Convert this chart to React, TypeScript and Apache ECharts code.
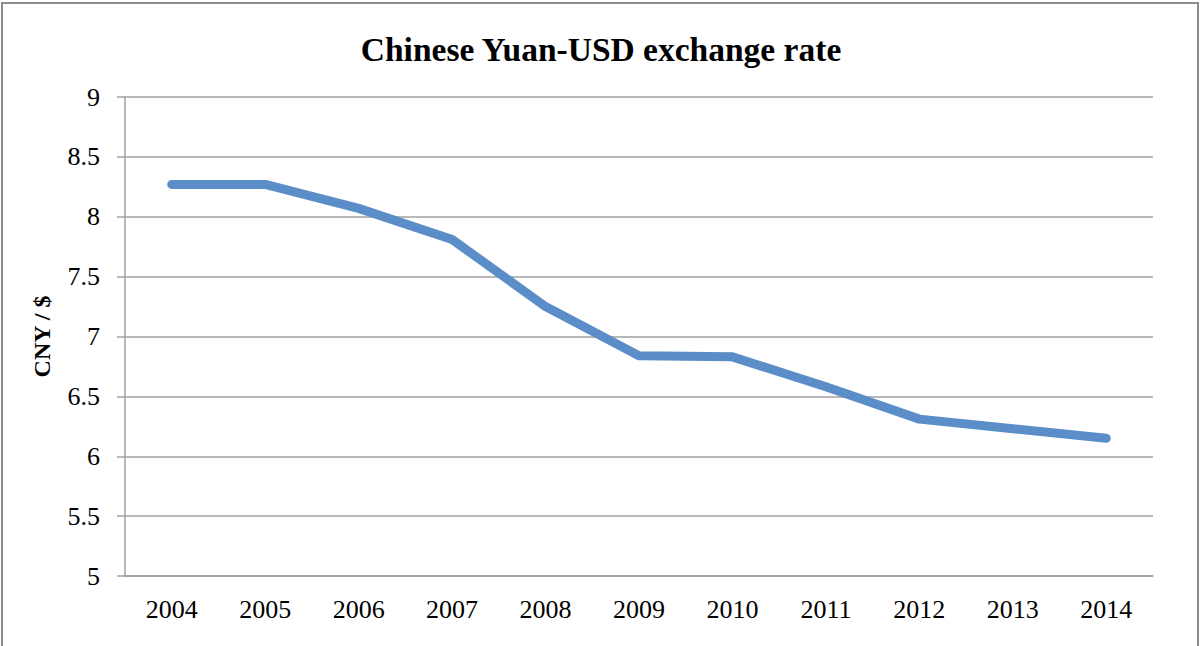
import React, { useEffect, useRef } from "react";
import * as echarts from "echarts";

const years = ["2004", "2005", "2006", "2007", "2008", "2009", "2010", "2011", "2012", "2013", "2014"];
const rates = [8.27, 8.27, 8.07, 7.81, 7.25, 6.84, 6.83, 6.58, 6.31, 6.23, 6.15];
const titleText = "Chinese Yuan-USD exchange rate";
const yAxisName = "CNY / $";

const FONT = "'Liberation Serif', 'DejaVu Serif', serif";

export default function App() {
  const ref = useRef<HTMLDivElement>(null);
  useEffect(() => {
    document.body.style.margin = "0";
    const chart = echarts.init(ref.current!, null, { renderer: "svg" });
    chart.setOption({
      animation: false,
      backgroundColor: "#fff",
      title: {
        text: titleText,
        left: "center",
        top: 27,
        textStyle: { fontFamily: FONT, fontWeight: "bold", fontSize: 33.5, color: "#000" },
      },
      graphic: [
        {
          type: "rect",
          shape: { x: 2, y: 3, width: 1196, height: 700 },
          style: { fill: "none", stroke: "#8c8c8c", lineWidth: 2 },
          silent: true,
        },
      ],
      grid: { left: 125, right: 49, top: 97, bottom: 70, containLabel: false },
      xAxis: {
        type: "category",
        data: years,
        boundaryGap: true,
        axisLine: { show: true, lineStyle: { color: "#a0a0a0", width: 1.5 } },
        axisTick: { show: false },
        axisLabel: { fontFamily: FONT, fontSize: 26, color: "#000", margin: 20 },
      },
      yAxis: {
        type: "value",
        min: 5,
        max: 9,
        interval: 0.5,
        name: yAxisName,
        nameLocation: "middle",
        nameGap: 71,
        nameRotate: 90,
        nameTextStyle: { fontFamily: FONT, fontWeight: "bold", fontSize: 24, color: "#000" },
        axisLine: { show: true, lineStyle: { color: "#a0a0a0", width: 1.5 } },
        axisTick: { show: true, length: 8, lineStyle: { color: "#a0a0a0", width: 1.5 } },
        splitLine: { show: true, lineStyle: { color: "#a0a0a0", width: 1.5 } },
        axisLabel: { fontFamily: FONT, fontSize: 26, color: "#000", margin: 25 },
      },
      series: [
        {
          type: "line",
          data: rates,
          symbol: "none",
          lineStyle: { color: "#5b8ec8", width: 9, cap: "round", join: "round" },
        },
      ],
    });
    return () => chart.dispose();
  }, []);
  return <div ref={ref} style={{ width: 1202, height: 646 }} />;
}
